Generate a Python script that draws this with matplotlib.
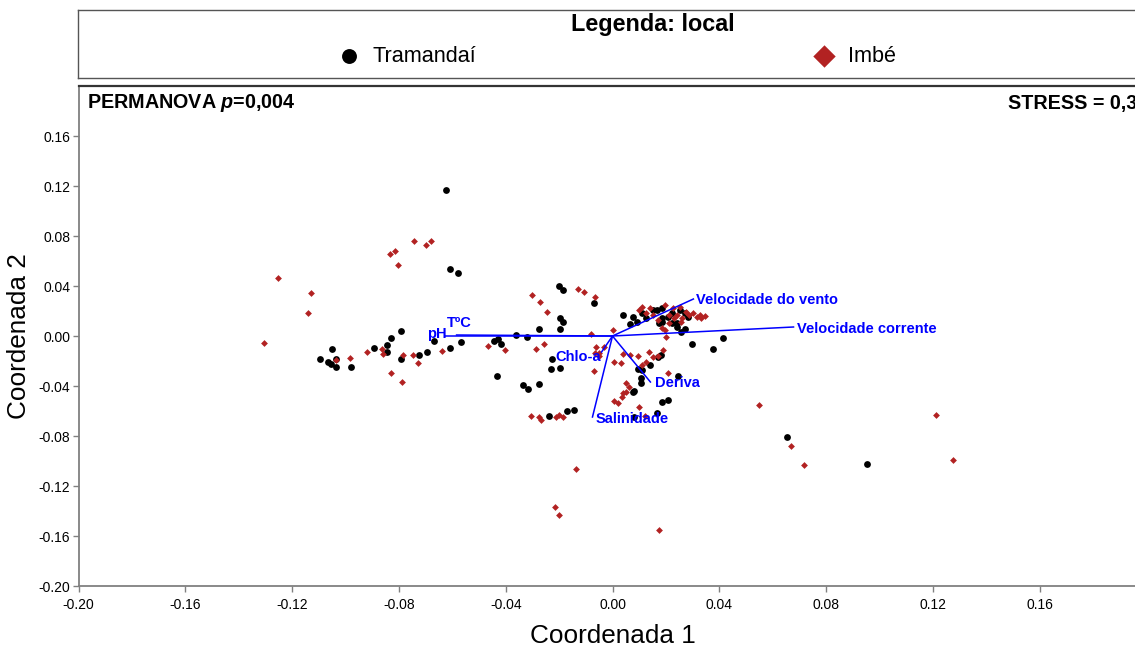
import matplotlib.pyplot as plt

plt.rcParams['font.family'] = ['Liberation Sans', 'DejaVu Sans']
plt.rcParams['axes.unicode_minus'] = False
plt.rcParams['mathtext.fontset'] = 'custom'
plt.rcParams['mathtext.it'] = 'Liberation Sans:italic:bold'
plt.rcParams['mathtext.rm'] = 'Liberation Sans:bold'

# NMDS scores, Tramandaí
tram_x = [-0.0622, -0.0607, -0.0577, -0.1097, -0.1064, -0.1056, -0.1049, -0.1037, -0.1034, -0.0978,
          -0.0895, -0.0843, -0.0843, -0.0828, -0.0794, -0.0794, -0.0723, -0.0693, -0.0670, -0.0607,
          -0.0569, -0.0442, -0.0427, -0.0416, -0.0434, -0.0360, -0.0322, -0.0277, -0.0202, -0.0184,
          -0.0071, -0.0195, -0.0187, -0.0195, -0.0228, -0.0232, -0.0195, -0.0337, -0.0318, -0.0277,
          -0.0236, -0.0172, -0.0146, 0.0041, 0.0067, 0.0075, 0.0090, 0.0109, 0.0127, 0.0150,
          0.0165, 0.0176, 0.0184, 0.0187, 0.0187, 0.0206, 0.0221, 0.0221, 0.0240, 0.0240,
          0.0251, 0.0258, 0.0270, 0.0270, 0.0281, 0.0296, 0.0378, 0.0412, 0.0180, 0.0172,
          0.0139, 0.0097, 0.0112, 0.0105, 0.0105, 0.0075, 0.0082, 0.0247, 0.0187, 0.0206,
          0.0165, 0.0082, 0.0655, 0.0955]
tram_y = [0.1168, 0.0536, 0.0504, -0.0184, -0.0208, -0.0224, -0.0104, -0.0184, -0.0248, -0.0248,
          -0.0096, -0.0128, -0.0072, -0.0016, 0.0040, -0.0184, -0.0152, -0.0128, -0.0040, -0.0096,
          -0.0048, -0.0040, -0.0024, -0.0064, -0.0320, 0.0008, -0.0008, 0.0060, 0.0400, 0.0368,
          0.0264, 0.0144, 0.0112, 0.0056, -0.0184, -0.0264, -0.0256, -0.0392, -0.0424, -0.0384,
          -0.0640, -0.0600, -0.0592, 0.0168, 0.0096, 0.0152, 0.0112, 0.0184, 0.0144, 0.0208,
          0.0208, 0.0104, 0.0144, 0.0224, 0.0112, 0.0152, 0.0184, 0.0104, 0.0104, 0.0072,
          0.0208, 0.0032, 0.0184, 0.0056, 0.0152, -0.0064, -0.0104, -0.0016, -0.0152, -0.0168,
          -0.0232, -0.0264, -0.0272, -0.0336, -0.0376, -0.0448, -0.0440, -0.0320, -0.0528, -0.0512,
          -0.0616, -0.0648, -0.0808, -0.1024]

# NMDS scores, Imbé
imbe_x = [-0.1307, -0.1251, -0.1131, -0.1142, -0.1034, -0.0985, -0.0921, -0.0865, -0.0861, -0.0831,
          -0.0790, -0.0783, -0.0749, -0.0727, -0.0640, -0.0468, -0.0835, -0.0816, -0.0805, -0.0742,
          -0.0700, -0.0678, -0.0404, -0.0300, -0.0270, -0.0247, -0.0131, -0.0105, -0.0064, -0.0079,
          0.0000, -0.0285, -0.0258, -0.0060, -0.0064, -0.0049, -0.0052, -0.0071, 0.0007, -0.0307,
          -0.0277, -0.0266, -0.0210, -0.0202, -0.0184, -0.0135, -0.0217, -0.0199, 0.0176, -0.0030,
          0.0030, 0.0041, 0.0064, 0.0094, 0.0135, 0.0150, 0.0191, 0.0109, 0.0127, 0.0169,
          0.0206, 0.0052, 0.0060, 0.0052, 0.0041, 0.0034, 0.0007, 0.0019, 0.0101, 0.0120,
          0.0547, 0.0667, 0.0719, 0.1213, 0.1277, 0.0112, 0.0139, 0.0195, 0.0225, 0.0251,
          0.0277, 0.0300, 0.0326, 0.0345, 0.0333, 0.0315, 0.0288, 0.0150, 0.0169, 0.0184,
          0.0195, 0.0213, 0.0232, 0.0258, 0.0127, 0.0101, 0.0202, 0.0213, 0.0240, 0.0262]
imbe_y = [-0.0056, 0.0464, 0.0344, 0.0184, -0.0192, -0.0176, -0.0128, -0.0104, -0.0144, -0.0296,
          -0.0368, -0.0152, -0.0152, -0.0216, -0.0120, -0.0080, 0.0656, 0.0680, 0.0568, 0.0760,
          0.0728, 0.0760, -0.0112, 0.0328, 0.0272, 0.0192, 0.0376, 0.0352, 0.0312, 0.0016,
          0.0048, -0.0104, -0.0064, -0.0088, -0.0136, -0.0136, -0.0160, -0.0280, -0.0208, -0.0640,
          -0.0648, -0.0672, -0.0648, -0.0632, -0.0648, -0.1064, -0.1368, -0.1432, -0.1552, -0.0088,
          -0.0216, -0.0144, -0.0152, -0.0160, -0.0128, -0.0168, -0.0112, -0.0232, -0.0208, -0.0160,
          -0.0296, -0.0376, -0.0408, -0.0448, -0.0456, -0.0488, -0.0520, -0.0536, -0.0568, -0.0640,
          -0.0552, -0.0880, -0.1032, -0.0632, -0.0992, 0.0232, 0.0224, 0.0248, 0.0224, 0.0232,
          0.0192, 0.0184, 0.0168, 0.0160, 0.0144, 0.0152, 0.0168, 0.0168, 0.0128, 0.0064,
          0.0048, 0.0104, 0.0144, 0.0112, 0.0184, 0.0208, -0.0008, 0.0168, 0.0168, 0.0144]

# environmental vectors (biplot)
vec_names = ['pH', 'TºC', 'Velocidade corrente', 'Velocidade do vento', 'Deriva', 'Salinidade', 'Chlo-a']
vec_x = [-0.0629, -0.0584, 0.0678, 0.0303, 0.0142, -0.0075, -0.0041]
vec_y = [0.0000, 0.0008, 0.0072, 0.0296, -0.0368, -0.0648, -0.0128]

ticks = [-0.20, -0.16, -0.12, -0.08, -0.04, 0.00, 0.04, 0.08, 0.12, 0.16]
tick_labels = ['-0.20', '-0.16', '-0.12', '-0.08', '-0.04', '0.00', '0.04', '0.08', '0.12', '0.16']

permanova_txt = 'PERMANOVA $p$=0,004'
stress_txt = 'STRESS = 0,3'

W, H = 1135, 646
fig = plt.figure(figsize=(W / 100, H / 100), dpi=100)

ax = fig.add_axes([78.5 / W, 60 / H, 1068 / W, 500 / H])
ax.set_xlim(-0.2, 0.2)
ax.set_ylim(-0.2, 0.2)

sc_t = ax.scatter(tram_x, tram_y, s=24, marker='o', color='black', linewidths=0, zorder=2)
sc_i = ax.scatter(imbe_x, imbe_y, s=12, marker='D', color='#B22222', linewidths=0, zorder=3)

# label placement for each vector: (dx, dy) in pixels, horizontal alignment
lab_style = {
    'pH': (2, 2, 'right'),
    'TºC': (-10, 12, 'left'),
    'Velocidade corrente': (3, -2, 'left'),
    'Velocidade do vento': (3, -1, 'left'),
    'Deriva': (5, -1, 'left'),
    'Salinidade': (3, -2, 'left'),
    'Chlo-a': (-1, -5, 'right'),
}
for name, vx, vy in zip(vec_names, vec_x, vec_y):
    ax.plot([0, vx], [0, vy], color='#0000FF', lw=1.1, zorder=4)
    dx, dy, ha = lab_style[name]
    ax.annotate(name, xy=(vx, vy), xytext=(dx, dy), textcoords='offset pixels',
                ha=ha, va='center', color='#0000FF', fontsize=10.5,
                fontweight='bold', zorder=5)

ax.set_xticks(ticks)
ax.set_xticklabels(tick_labels)
ax.set_yticks(ticks)
ax.set_yticklabels(tick_labels)
ax.tick_params(direction='out', length=4.5, width=1, color='#808080', labelsize=10)
ax.tick_params(axis='x', pad=4)
ax.tick_params(axis='y', pad=1.5)

ax.set_xlabel('Coordenada 1', fontsize=18.8, labelpad=8.5)
ax.set_ylabel('Coordenada 2', fontsize=18.8, labelpad=5)

for side in ['left', 'bottom']:
    ax.spines[side].set_color('#808080')
    ax.spines[side].set_linewidth(1.3)
ax.spines['top'].set_color('#333333')
ax.spines['top'].set_linewidth(1.6)

ax.text(0.008, 0.966, permanova_txt, transform=ax.transAxes, ha='left', va='center',
        fontsize=14.2, fontweight='bold')
ax.text(0.870, 0.966, stress_txt, transform=ax.transAxes, ha='left', va='center',
        fontsize=14.2, fontweight='bold')

# legend panel above the plot
lax = fig.add_axes([78 / W, 1 - 78 / H, 1070 / W, 68 / H])
lax.set_xticks([])
lax.set_yticks([])
for sp in lax.spines.values():
    sp.set_color('#555555')
    sp.set_linewidth(1.0)
lax.text(0.537, 0.79, 'Legenda: local', ha='center', va='center',
         fontsize=16.8, fontweight='bold', transform=lax.transAxes)
leg = lax.legend([sc_t, sc_i], ['Tramandaí', 'Imbé'], ncol=2, loc='center',
                 bbox_to_anchor=(0.504, 0.32), frameon=False, fontsize=15.6,
                 handlelength=1.0, handletextpad=0.6, columnspacing=15.55,
                 scatterpoints=1)
leg.legend_handles[0].set_sizes([115])
leg.legend_handles[1].set_sizes([130])

fig.savefig('out.png', dpi=100)
